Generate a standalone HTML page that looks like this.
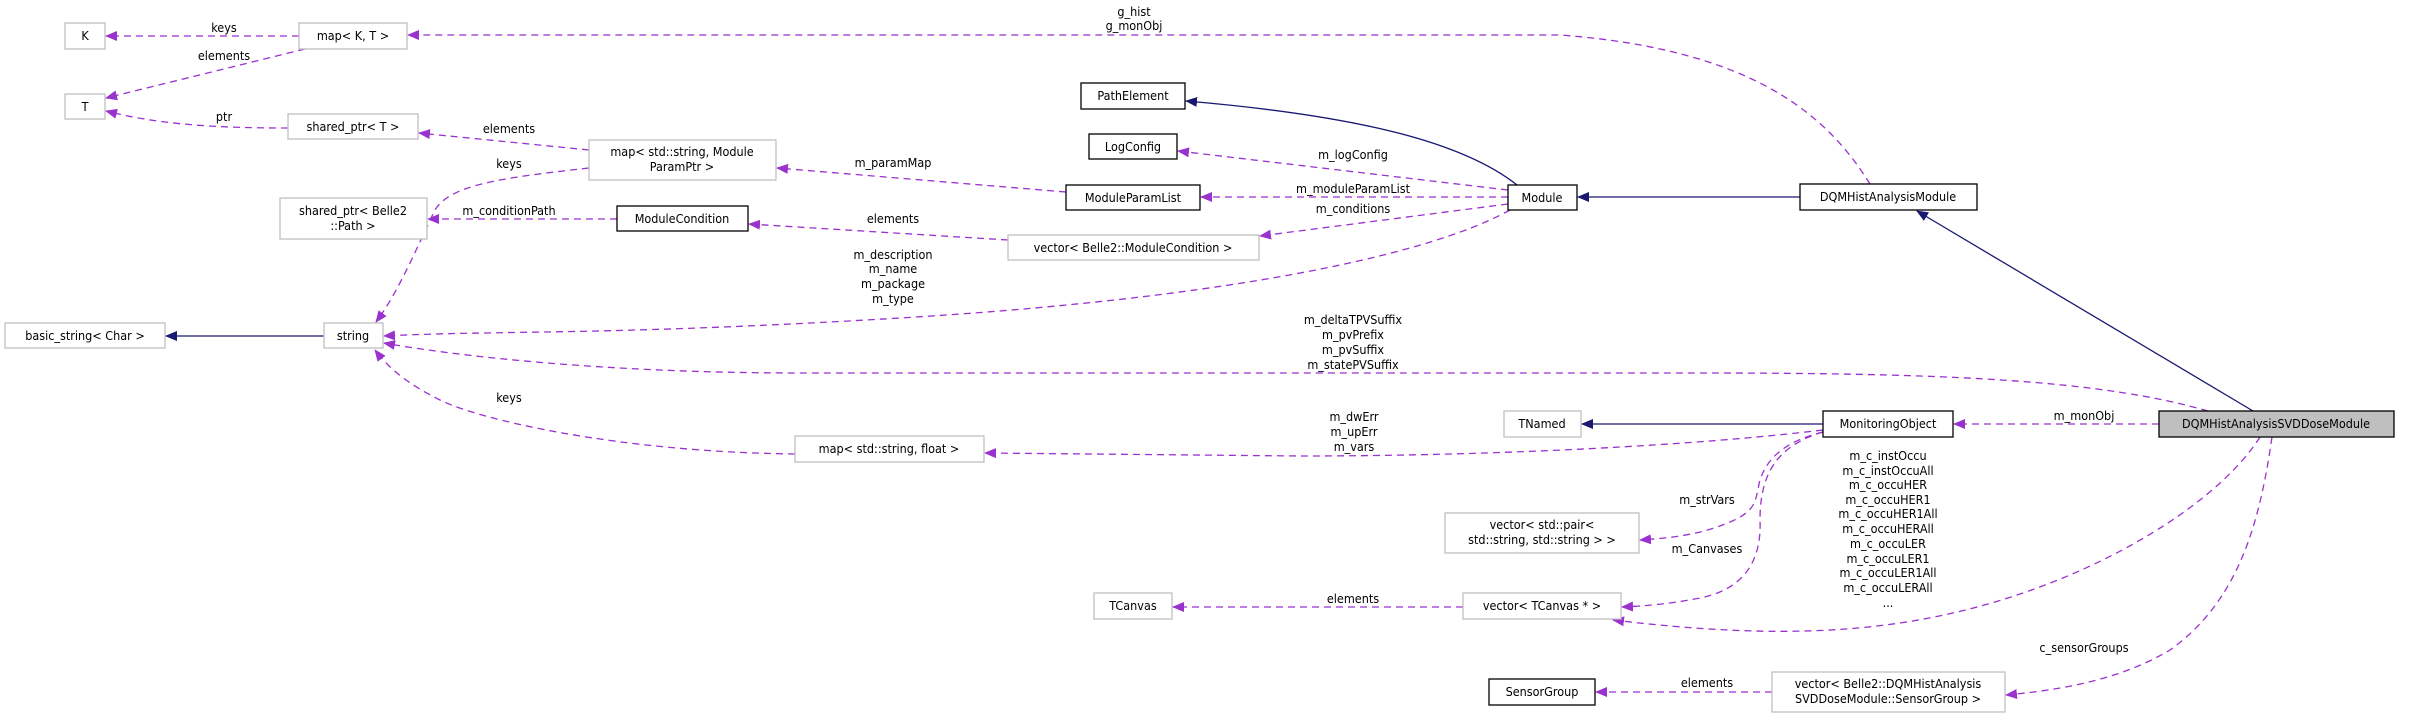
<!DOCTYPE html>
<html><head><meta charset="utf-8"><style>
html,body{margin:0;padding:0;background:#fff;}
svg{display:block;}
text{font-family:"DejaVu Sans Condensed","Liberation Sans Narrow","Liberation Sans",sans-serif;font-size:12.5px;fill:#000;}
.g{fill:#fff;stroke:#bfbfbf;stroke-width:1.3;}
.b{fill:#fff;stroke:#000;stroke-width:1.3;}
.e{fill:none;stroke:#9a32cd;stroke-width:1.3;stroke-dasharray:7,5;}
.s{fill:none;stroke:#191970;stroke-width:1.3;}
</style></head><body>
<svg width="2421" height="717" viewBox="0 0 2421 717" xmlns="http://www.w3.org/2000/svg">
<defs>
<marker id="p" markerWidth="12" markerHeight="10" refX="11" refY="5" orient="auto" markerUnits="userSpaceOnUse"><path d="M0,0 L12,5 L0,10 z" fill="#9a32cd"/></marker>
<marker id="n" markerWidth="12" markerHeight="10" refX="11" refY="5" orient="auto" markerUnits="userSpaceOnUse"><path d="M0,0 L12,5 L0,10 z" fill="#191970"/></marker>
</defs>

<!-- edges -->
<path class="e" marker-end="url(#p)" d="M299,36 L106,36"/>
<path class="e" marker-end="url(#p)" d="M305,49 L106,98"/>
<path class="e" marker-end="url(#p)" d="M288,128 C220,128 160,125 106,111"/>
<path class="e" marker-end="url(#p)" d="M589,150 L419,133"/>
<path class="e" marker-end="url(#p)" d="M589,168 C500,178 450,185 435,210 C420,240 400,290 376,322"/>
<path class="e" marker-end="url(#p)" d="M617,219 L428,219"/>
<path class="s" marker-end="url(#n)" d="M324,336 L166,336"/>
<path class="e" marker-end="url(#p)" d="M1066,192 L777,168"/>
<path class="e" marker-end="url(#p)" d="M1008,240 L749,224"/>
<path class="s" marker-end="url(#n)" d="M1517,185 C1460,140 1350,115 1186,101"/>
<path class="e" marker-end="url(#p)" d="M1508,190 L1178,151"/>
<path class="e" marker-end="url(#p)" d="M1508,197 L1201,197"/>
<path class="e" marker-end="url(#p)" d="M1508,204 L1260,236"/>
<path class="e" marker-end="url(#p)" d="M1510,210 C1420,260 1200,300 900,318 S500,330 384,336"/>
<path class="s" marker-end="url(#n)" d="M1800,197 L1578,197"/>
<path class="e" marker-end="url(#p)" d="M1870,184 C1830,120 1760,50 1560,35 L408,35"/>
<path class="s" marker-end="url(#n)" d="M2253,411 L1917,211"/>
<path class="e" marker-end="url(#p)" d="M2208,411 C2100,380 1950,373 1700,373 L800,373 C600,373 450,355 384,343"/>
<path class="s" marker-end="url(#n)" d="M1823,424 L1582,424"/>
<path class="e" marker-end="url(#p)" d="M2159,424 L1954,424"/>
<path class="e" marker-end="url(#p)" d="M1823,430 C1700,445 1500,456 1300,456 L985,453"/>
<path class="e" marker-end="url(#p)" d="M795,454 C620,452 480,420 440,400 C410,385 390,370 375,350"/>
<path class="e" marker-end="url(#p)" d="M1823,432 C1790,440 1768,455 1760,480 C1755,500 1758,510 1730,522 C1700,535 1670,538 1640,540"/>
<path class="e" marker-end="url(#p)" d="M1823,432 C1780,445 1760,470 1760,520 C1762,565 1740,590 1700,598 C1670,604 1645,606 1622,607"/>
<path class="e" marker-end="url(#p)" d="M2260,437 C2220,500 2120,560 2023,593 C1900,635 1780,640 1613,620"/>
<path class="e" marker-end="url(#p)" d="M1463,607 L1173,607"/>
<path class="e" marker-end="url(#p)" d="M2272,437 C2260,520 2240,600 2170,650 C2120,680 2060,690 2006,695"/>
<path class="e" marker-end="url(#p)" d="M1772,692 L1596,692"/>

<!-- edge labels -->
<g text-anchor="middle">
<text x="224" y="32">keys</text>
<text x="224" y="60">elements</text>
<text x="224" y="121">ptr</text>
<text x="509" y="133">elements</text>
<text x="509" y="168">keys</text>
<text x="509" y="215">m_conditionPath</text>
<text x="1134" y="16">g_hist</text>
<text x="1134" y="30">g_monObj</text>
<text x="893" y="167">m_paramMap</text>
<text x="893" y="223">elements</text>
<text x="893" y="259">m_description</text>
<text x="893" y="273">m_name</text>
<text x="893" y="288">m_package</text>
<text x="893" y="303">m_type</text>
<text x="1353" y="159">m_logConfig</text>
<text x="1353" y="193">m_moduleParamList</text>
<text x="1353" y="213">m_conditions</text>
<text x="1353" y="324">m_deltaTPVSuffix</text>
<text x="1353" y="339">m_pvPrefix</text>
<text x="1353" y="354">m_pvSuffix</text>
<text x="1353" y="369">m_statePVSuffix</text>
<text x="1354" y="421">m_dwErr</text>
<text x="1354" y="436">m_upErr</text>
<text x="1354" y="451">m_vars</text>
<text x="509" y="402">keys</text>
<text x="2084" y="420">m_monObj</text>
<text x="1707" y="504">m_strVars</text>
<text x="1707" y="553">m_Canvases</text>
<text x="1353" y="603">elements</text>
<text x="1707" y="687">elements</text>
<text x="2084" y="652">c_sensorGroups</text>
<text x="1888" y="460">m_c_instOccu</text>
<text x="1888" y="475">m_c_instOccuAll</text>
<text x="1888" y="489">m_c_occuHER</text>
<text x="1888" y="504">m_c_occuHER1</text>
<text x="1888" y="518">m_c_occuHER1All</text>
<text x="1888" y="533">m_c_occuHERAll</text>
<text x="1888" y="548">m_c_occuLER</text>
<text x="1888" y="563">m_c_occuLER1</text>
<text x="1888" y="577">m_c_occuLER1All</text>
<text x="1888" y="592">m_c_occuLERAll</text>
<text x="1888" y="607">...</text>
</g>

<!-- nodes -->
<g text-anchor="middle">
<rect class="g" x="65" y="23" width="40" height="26"/><text x="85" y="40">K</text>
<rect class="g" x="299" y="23" width="108" height="26"/><text x="353" y="40">map&lt; K, T &gt;</text>
<rect class="g" x="65" y="94" width="40" height="25"/><text x="85" y="111">T</text>
<rect class="g" x="288" y="114" width="130" height="25"/><text x="353" y="131">shared_ptr&lt; T &gt;</text>
<rect class="g" x="589" y="140" width="187" height="40"/><text x="682" y="156">map&lt; std::string, Module</text><text x="682" y="171">ParamPtr &gt;</text>
<rect class="g" x="280" y="198" width="147" height="41"/><text x="353" y="215">shared_ptr&lt; Belle2</text><text x="353" y="230">::Path &gt;</text>
<rect class="b" x="617" y="206" width="131" height="25"/><text x="682" y="223">ModuleCondition</text>
<rect class="g" x="5" y="323" width="160" height="25"/><text x="85" y="340">basic_string&lt; Char &gt;</text>
<rect class="g" x="324" y="323" width="59" height="25"/><text x="353" y="340">string</text>
<rect class="b" x="1081" y="83" width="104" height="26"/><text x="1133" y="100">PathElement</text>
<rect class="b" x="1089" y="134" width="88" height="25"/><text x="1133" y="151">LogConfig</text>
<rect class="b" x="1066" y="185" width="134" height="25"/><text x="1133" y="202">ModuleParamList</text>
<rect class="g" x="1008" y="235" width="251" height="25"/><text x="1133" y="252">vector&lt; Belle2::ModuleCondition &gt;</text>
<rect class="b" x="1508" y="185" width="69" height="25"/><text x="1542" y="202">Module</text>
<rect class="b" x="1800" y="184" width="177" height="26"/><text x="1888" y="201">DQMHistAnalysisModule</text>
<rect class="g" x="1504" y="411" width="77" height="26"/><text x="1542" y="428">TNamed</text>
<rect class="g" x="795" y="436" width="189" height="26"/><text x="889" y="453">map&lt; std::string, float &gt;</text>
<rect class="b" x="1823" y="411" width="130" height="26"/><text x="1888" y="428">MonitoringObject</text>
<rect fill="#bfbfbf" stroke="#000" stroke-width="1.3" x="2159" y="411" width="235" height="26"/><text x="2276" y="428">DQMHistAnalysisSVDDoseModule</text>
<rect class="g" x="1445" y="513" width="194" height="40"/><text x="1542" y="529">vector&lt; std::pair&lt;</text><text x="1542" y="544">std::string, std::string &gt; &gt;</text>
<rect class="g" x="1094" y="593" width="78" height="26"/><text x="1133" y="610">TCanvas</text>
<rect class="g" x="1463" y="593" width="158" height="26"/><text x="1542" y="610">vector&lt; TCanvas * &gt;</text>
<rect class="b" x="1489" y="679" width="106" height="26"/><text x="1542" y="696">SensorGroup</text>
<rect class="g" x="1772" y="672" width="233" height="40"/><text x="1888" y="688">vector&lt; Belle2::DQMHistAnalysis</text><text x="1888" y="703">SVDDoseModule::SensorGroup &gt;</text>
</g>
</svg>
</body></html>
